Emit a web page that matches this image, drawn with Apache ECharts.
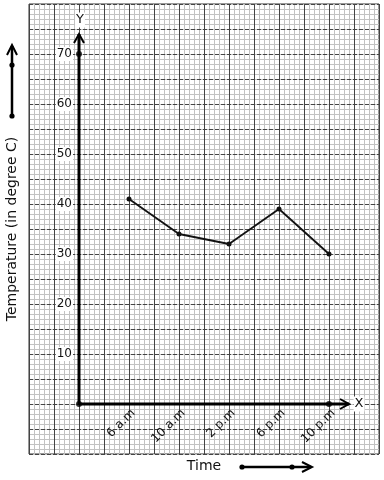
<!DOCTYPE html>
<html><head><meta charset="utf-8">
<script src="https://cdn.jsdelivr.net/npm/echarts@6/dist/echarts.min.js"></script>
<style>html,body{margin:0;padding:0;background:#fff}#c{width:384px;height:480px}</style>
</head><body><div id="c"></div>
<script>
const categories = ['6 a.m', '10 a.m', '2 p.m', '6 p.m', '10 p.m'];
const temperatures = [41, 34, 32, 39, 30];
const yTickValues = [10, 20, 30, 40, 50, 60, 70];
const xTickValues = [1, 2, 3, 4, 5];
const xAxisTitle = 'Time';
const yAxisTitle = 'Temperature (in degree C)';
const yAxisEnd = 74;     // top of drawn Y axis (arrow tip)
const xAxisEnd = 5.4;    // right end of drawn X axis (arrow tip)
const axisDots = [[0, 0], [0, 70], [5, 0]];

const FONT = 'DejaVu Sans';
const chart = echarts.init(document.getElementById('c'), null, {renderer: 'canvas'});

const hidden = {axisLine: {show: false}, axisTick: {show: false}, axisLabel: {show: false}};
const minorLine = {show: true, lineStyle: {color: '#c2c2c2', width: 1}};

const option = {
  animation: false,
  backgroundColor: '#fff',
  grid: {left: 29, right: 5, top: 4, bottom: 26, show: true, borderColor: '#333', borderWidth: 1, backgroundColor: 'transparent'},
  xAxis: [
    Object.assign({type: 'value', min: -10, max: 60, interval: 1, position: 'bottom', splitLine: minorLine, z: 0}, hidden),
    Object.assign({type: 'value', min: -2, max: 12, interval: 1, position: 'bottom', splitLine: {show: true, lineStyle: {color: '#444', width: 1}}, z: 1}, hidden),
    {type: 'value', min: -1, max: 6, interval: 1, position: 'bottom', offset: -50, z: 5,
      axisLine: {show: false}, axisTick: {show: false}, splitLine: {show: false},
      axisLabel: {show: true, customValues: xTickValues, rotate: 45, margin: 3,
        verticalAlign: 'top',
        fontFamily: FONT, fontSize: 12, color: '#111',
        formatter: v => categories[Math.round(v) - 1] || ''}}
  ],
  yAxis: [
    Object.assign({type: 'value', min: -10, max: 80, interval: 1, position: 'left', splitLine: minorLine, z: 0}, hidden),
    Object.assign({type: 'value', min: -2, max: 16, interval: 1, position: 'left', splitLine: {show: true, lineStyle: {color: '#444', width: 1, type: [4, 2]}}, z: 1}, hidden),
    {type: 'value', min: -10, max: 80, interval: 10, position: 'left', offset: -50, z: 5,
      axisLine: {show: false}, axisTick: {show: false}, splitLine: {show: false},
      axisLabel: {show: true, customValues: yTickValues, margin: 6,
        fontFamily: FONT, fontSize: 12, color: '#111',
        backgroundColor: '#fff', padding: [1, 1, 1, 1],
        formatter: v => String(v)}}
  ],
  graphic: [
    {type: 'text', x: 12, y: 229, rotation: Math.PI / 2, z: 10,
      style: {text: yAxisTitle, font: '14px "DejaVu Sans"', fill: '#111', align: 'center', verticalAlign: 'middle'}},
    {type: 'text', x: 204, y: 466, z: 10,
      style: {text: xAxisTitle, font: '14px "DejaVu Sans"', fill: '#111', align: 'center', verticalAlign: 'middle'}},
    // decorative arrows
    {type: 'line', shape: {x1: 12, y1: 116, x2: 12, y2: 46}, style: {stroke: '#000', lineWidth: 2.5}},
    {type: 'polyline', shape: {points: [[7, 55], [12, 45], [17, 55]]}, style: {stroke: '#000', lineWidth: 2, fill: null}},
    {type: 'circle', shape: {cx: 12, cy: 65, r: 2.6}, style: {fill: '#000'}},
    {type: 'circle', shape: {cx: 12, cy: 116, r: 2.6}, style: {fill: '#000'}},
    {type: 'line', shape: {x1: 242, y1: 467, x2: 311, y2: 467}, style: {stroke: '#000', lineWidth: 2.5}},
    {type: 'polyline', shape: {points: [[302, 462], [312, 467], [302, 472]]}, style: {stroke: '#000', lineWidth: 2, fill: null}},
    {type: 'circle', shape: {cx: 242, cy: 467, r: 2.6}, style: {fill: '#000'}},
    {type: 'circle', shape: {cx: 292, cy: 467, r: 2.6}, style: {fill: '#000'}}
  ],
  series: [
    {type: 'line', xAxisIndex: 2, yAxisIndex: 2, z: 4, symbol: 'none', silent: true,
      data: [[0, yAxisEnd], [0, 0], [xAxisEnd, 0]],
      lineStyle: {color: '#000', width: 3}},
    {type: 'custom', xAxisIndex: 2, yAxisIndex: 2, z: 6, silent: true,
      data: [[0, yAxisEnd, 0], [xAxisEnd, 0, 1]],
      renderItem: function (params, api) {
        const p = api.coord([api.value(0), api.value(1)]);
        const pts = api.value(2) === 0
          ? [[p[0] - 5, p[1] + 9], [p[0], p[1]], [p[0] + 5, p[1] + 9]]
          : [[p[0] - 9, p[1] - 5], [p[0], p[1]], [p[0] - 9, p[1] + 5]];
        return {type: 'polyline', shape: {points: pts}, style: {stroke: '#000', lineWidth: 2, fill: null}};
      }},
    {type: 'custom', xAxisIndex: 2, yAxisIndex: 2, z: 6, silent: true,
      data: [[0.02, 76.8, 'Y'], [5.6, 0, 'X']],
      renderItem: function (params, api) {
        const d = params.dataIndex === 0 ? 'Y' : 'X';
        const p = api.coord([api.value(0), api.value(1)]);
        return {type: 'text', x: p[0], y: p[1],
          style: {text: d, font: '13px "DejaVu Sans"', fill: '#111', align: 'center', verticalAlign: 'middle',
            backgroundColor: '#fff', padding: [1, 1, 1, 1]}};
      }},
    {type: 'scatter', xAxisIndex: 2, yAxisIndex: 2, z: 7, silent: true,
      symbolSize: 6, itemStyle: {color: '#000'}, data: axisDots},
    {type: 'line', xAxisIndex: 2, yAxisIndex: 2, z: 7,
      data: temperatures.map((v, i) => [xTickValues[i], v]),
      symbol: 'circle', symbolSize: 5, showSymbol: true,
      lineStyle: {color: '#111', width: 1.8}, itemStyle: {color: '#111'}}
  ]
};
chart.setOption(option);
</script>
</body></html>
